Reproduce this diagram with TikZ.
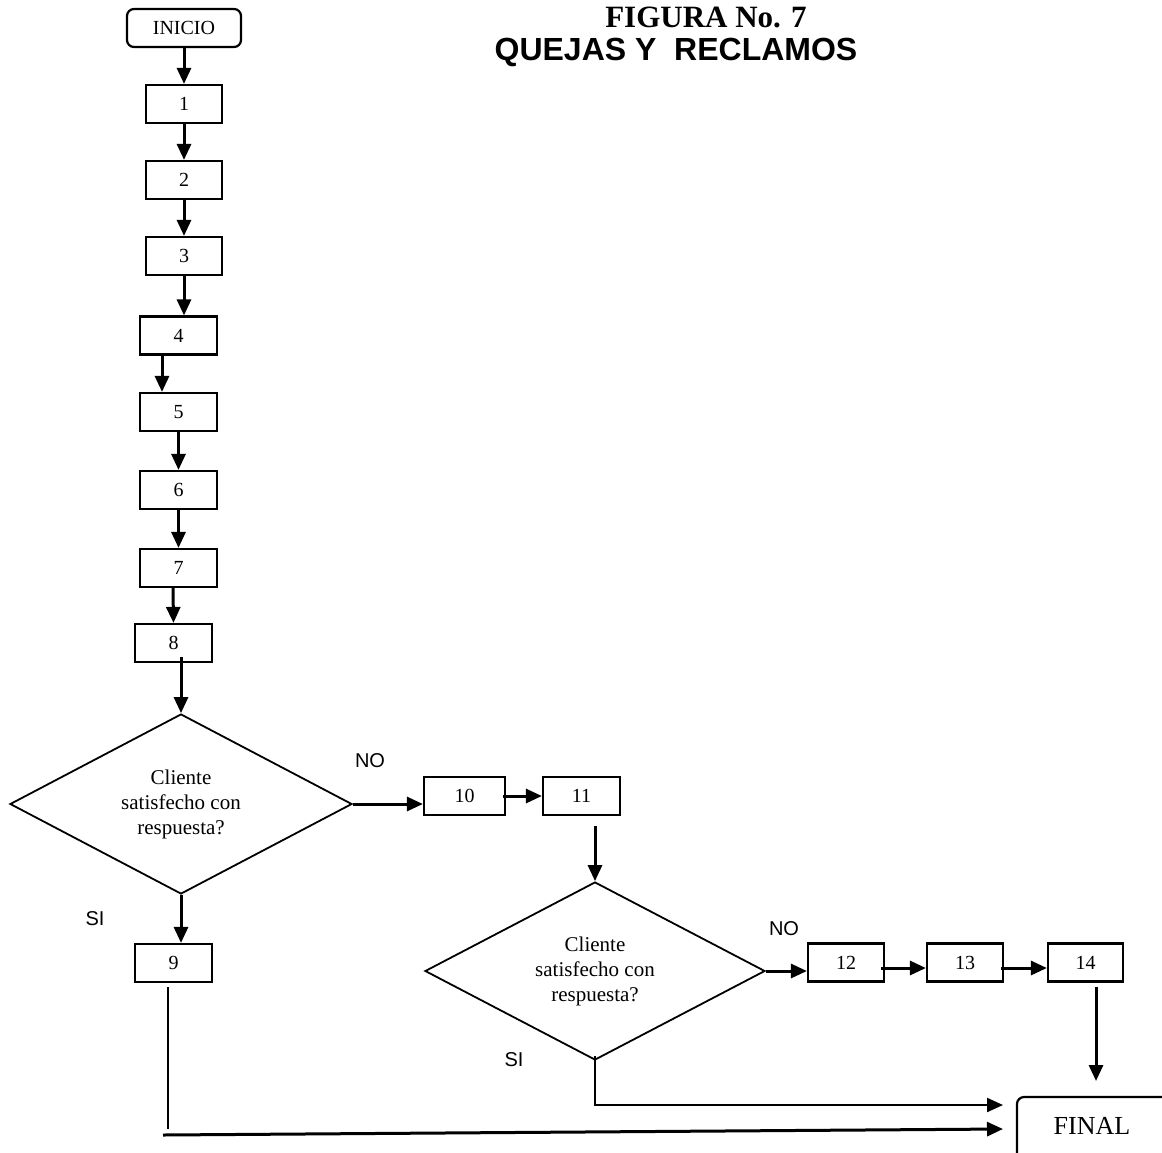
\documentclass[tikz,border=0pt]{standalone}
\usepackage{fontspec}
\setmainfont{Liberation Serif}
\newfontfamily\arialf{Liberation Sans}
\usetikzlibrary{shapes.geometric,arrows.meta}
\begin{document}
\begin{tikzpicture}[x=1pt,y=-1pt,
  box/.style={draw,line width=2.2pt,minimum width=76pt,minimum height=38pt,inner sep=0pt,font=\fontsize{20}{24}\selectfont},
  dec/.style={draw,diamond,line width=1.8pt,shape aspect=1.9,minimum width=342pt,minimum height=180pt,inner sep=0pt,align=center,font=\fontsize{21}{25}\selectfont},
  tip/.style={-{Triangle[length=16pt,width=14pt]}},
  arr/.style={line width=3pt,tip},
  plain/.style={line width=2.2pt},
  lbl/.style={font=\arialf\fontsize{20}{24}\selectfont,inner sep=0pt},
  term/.style={draw,line width=2.2pt,rounded corners=7pt,inner sep=0pt}]
\useasboundingbox (0,0) rectangle (1162,1152);
\clip (0,0) rectangle (1162,1152);

% title
\node[font=\bfseries\fontsize{31}{31}\selectfont,anchor=base,inner sep=0pt] (t1) at (706,27) {FIGURA No. 7};
\node[font=\arialf\bfseries\fontsize{32}{32}\selectfont,anchor=base,inner sep=0pt] (t2) at (676,60) {QUEJAS Y\ \ RECLAMOS};

% main column
\node[term,minimum width=114pt,minimum height=38pt,font=\fontsize{20}{24}\selectfont] (ini) at (184,28) {INICIO};
\node[box] (b1) at (184,104) {1};
\node[box] (b2) at (184,180) {2};
\node[box] (b3) at (184,256) {3};
\node[box,minimum width=77pt] (b4) at (178.5,335.5) {4};
\node[box,minimum width=77pt] (b5) at (178.5,412) {5};
\node[box,minimum width=77pt] (b6) at (178.5,490) {6};
\node[box,minimum width=77pt] (b7) at (178.5,568) {7};
\node[box,minimum width=77pt] (b8) at (173.5,643) {8};
\node[dec] (d1) at (181,804) {Cliente\\satisfecho con\\respuesta?};
\node[box,minimum width=77pt] (b9) at (173.5,963) {9};

% right branch
\node[box,minimum width=81pt] (b10) at (464.5,796) {10};
\node[box,minimum width=77pt] (b11) at (581.5,796) {11};
\node[dec,minimum width=340pt,minimum height=178pt] (d2) at (595,971) {Cliente\\satisfecho con\\respuesta?};
\node[box] (b12) at (846,962.5) {12};
\node[box] (b13) at (965,962.5) {13};
\node[box,minimum width=75pt] (b14) at (1085.5,962.5) {14};

% final
\node[term,minimum width=183pt,minimum height=70pt] (fin) at (1108.5,1132) {};
\node[font=\fontsize{26}{30}\selectfont,anchor=base,inner sep=0pt] (fint) at (1092,1134) {FINAL};

% labels
\node[lbl] (no1) at (370,761) {NO};
\node[lbl] (si1) at (95,919) {SI};
\node[lbl] (no2) at (784,929) {NO};
\node[lbl] (si2) at (514,1060) {SI};

% coordinates
\coordinate (f0) at (1096,1081);
\coordinate (f1) at (1003,1105);
\coordinate (f2) at (1003,1129);
\coordinate (s9) at (163,1135);
\coordinate (c9) at (168,1129);

% connectors main column
\draw[arr] (ini.south) -- (b1.north);
\draw[arr] (b1.south) -- (b2.north);
\draw[arr] (b2.south) -- (b3.north);
\draw[arr] (b3.south) -- (b3.south |- b4.north);
\draw[arr] ([xshift=-16.5pt]b4.south) -- ([xshift=-16.5pt]b5.north);
\draw[arr] (b5.south) -- (b6.north);
\draw[arr] (b6.south) -- (b7.north);
\draw[arr] ([xshift=-5.5pt]b7.south) -- (b8.north);
\draw[arr] ([xshift=7.5pt,yshift=6pt]b8.south) -- (d1.north);
\draw[arr] (d1.south) -- (d1.south |- b9.north);

% right branch connectors
\draw[arr] (d1.east) -- (d1.east -| b10.west);
\draw[arr] ([xshift=-3pt]b10.east) -- (b11.west);
\draw[arr] ([xshift=13.5pt,yshift=-10pt]b11.south) -- (d2.north);
\draw[arr] (d2.east) -- (d2.east -| b12.west);
\draw[arr] ([xshift=-4pt,yshift=-5.5pt]b12.east) -- ([yshift=-5.5pt]b13.west);
\draw[arr] ([xshift=-3pt,yshift=-5.5pt]b13.east) -- ([yshift=-5.5pt]b14.west);
\draw[arr] ([xshift=10.5pt,yshift=-4pt]b14.south) -- (f0);

% to final
\draw[plain,tip] ([yshift=5pt]d2.south) -- (d2.south |- f1) -- (f1);
\draw[plain] ([xshift=-5.5pt,yshift=-4pt]b9.south) -- (c9);
\draw[line width=3pt,tip] (s9) -- (f2);
\end{tikzpicture}
\end{document}
